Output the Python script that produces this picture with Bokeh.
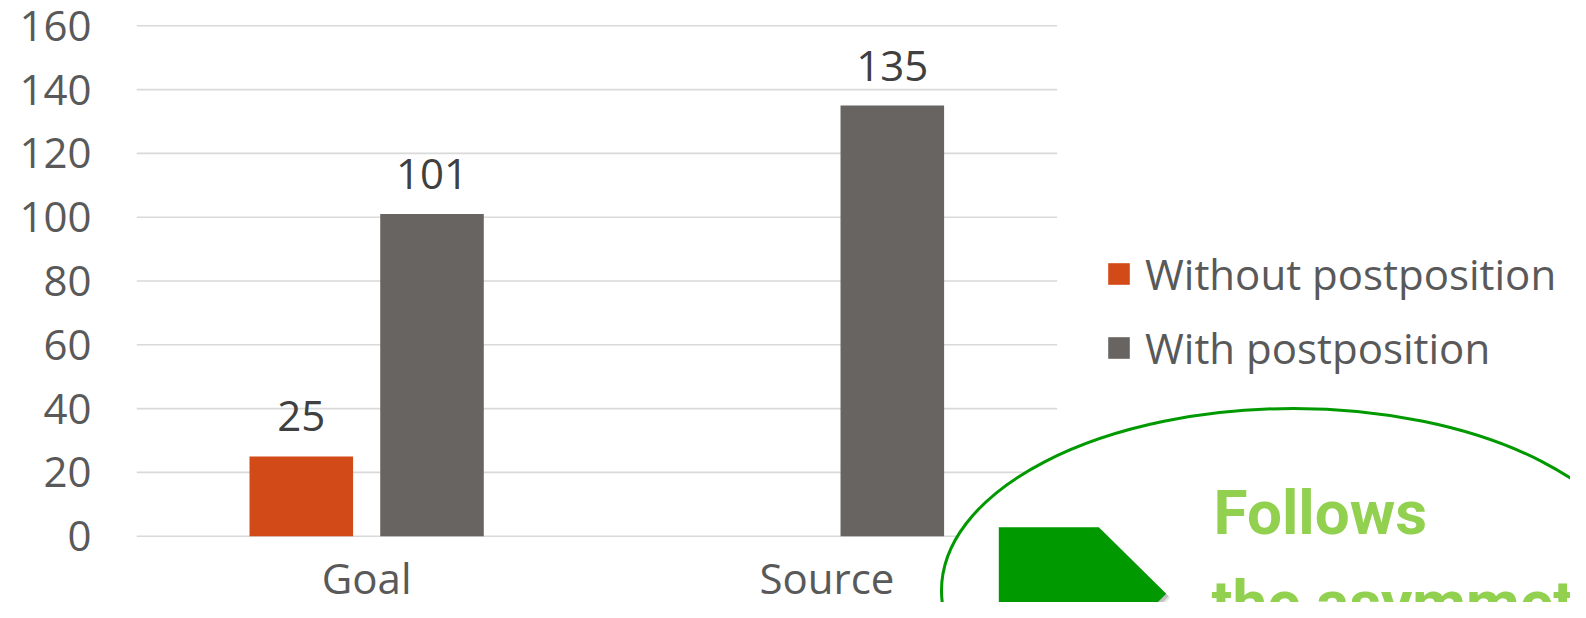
from bokeh.plotting import figure
from bokeh.models import ColumnDataSource, FixedTicker, LinearAxis, Legend, LegendItem, Range1d
from bokeh.core.properties import value
from bokeh.embed import file_html
from bokeh.resources import INLINE

# ---- data ----
categories = ["Goal", "Source"]
series_names = ["Without postposition", "With postposition"]
without_postposition = [25, 0]
with_postposition = [101, 135]
y_ticks = [0, 20, 40, 60, 80, 100, 120, 140, 160]
callout_line1 = "Follows"
callout_line2 = "the asymmetric"

# ---- styling ----
ORANGE = "#D24A17"
GRAY = "#686462"
TXT = "#595959"
LBL = "#404040"
GREEN = "#009900"
LIGHT_GREEN = "#92D050"
FONT = "Open Sans"
FS = "42px"

W, H = 1570, 602
LEFT = 136          # frame left edge (px)
CAT_PX = 460.3      # px per category
ZERO_PX = 535.7     # screen y of value 0
PX_UNIT = 3.19      # px per value unit

# pixel -> data helpers for the decorative callout
def dx(px):
    return (px - LEFT) / CAT_PX

def dy(py):
    return (ZERO_PX - py) / PX_UNIT

p = figure(width=W, height=H, output_backend="svg", toolbar_location=None,
           x_range=Range1d(0, dx(W)), y_range=Range1d(dy(H), dy(0)),
           x_axis_type=None, y_axis_type=None,
           min_border_left=LEFT, min_border_right=0, min_border_top=0, min_border_bottom=0)
p.outline_line_color = None
p.background_fill_color = "white"
p.border_fill_color = "white"

yaxis = LinearAxis(ticker=FixedTicker(ticks=y_ticks), axis_line_color=None,
                   major_tick_line_color=None, minor_tick_line_color=None,
                   major_tick_out=0, major_label_standoff=45,
                   major_label_text_font=FONT, major_label_text_font_size=FS,
                   major_label_text_color=TXT)
p.add_layout(yaxis, "left")

# gridlines across the category area only
n = len(y_ticks)
p.segment(x0=[0] * n, x1=[len(categories)] * n, y0=y_ticks, y1=y_ticks,
          line_color="#D9D9D9", line_width=1.6)

offset = 0.142
bw = 0.225
xc = [i + 0.5 for i in range(len(categories))]
src = ColumnDataSource(dict(
    x_wo=[c - offset for c in xc], x_w=[c + offset for c in xc],
    wo=without_postposition, w=with_postposition))

r1 = p.vbar(x="x_wo", top="wo", bottom=0, width=bw, source=src,
            fill_color=ORANGE, line_color=None)
r2 = p.vbar(x="x_w", top="w", bottom=0, width=bw, source=src,
            fill_color=GRAY, line_color=None)

# data labels (non-zero values only)
lx, ly, lt = [], [], []
for xs, vals in ((src.data["x_wo"], without_postposition), (src.data["x_w"], with_postposition)):
    for x, v in zip(xs, vals):
        if v:
            lx.append(x); ly.append(v); lt.append(str(v))
p.text(x=lx, y=ly, text=lt, text_align="center", text_baseline="middle",
       y_offset=-40, text_font=value(FONT), text_font_size=FS, text_color=LBL)

# category labels
p.text(x=xc, y=[0] * len(xc), text=categories, text_align="center",
       text_baseline="middle", y_offset=41, text_font=value(FONT),
       text_font_size=FS, text_color=TXT)

# callout ellipse
p.ellipse(x=[dx(1293)], y=[dy(590)], width=[704], height=[364],
          width_units="screen", height_units="screen",
          fill_color="white", line_color=GREEN, line_width=3)

# arrow (pentagon) with soft shadow
ax = [998.3, 1098.3, 1165.7, 1098.3, 998.3]
ay = [526.7, 526.7, 593.3, 660.0, 660.0]
for off, a in ((4, 0.15), (2.5, 0.25)):
    p.patch(x=[dx(v + off) for v in ax], y=[dy(v + off) for v in ay],
            fill_color="#555555", fill_alpha=a, line_color=None)
p.patch(x=[dx(v) for v in ax], y=[dy(v) for v in ay], fill_color=GREEN, line_color=None)

p.text(x=[dx(1213), dx(1211)], y=[dy(512), dy(602)], text=[callout_line1, callout_line2],
       text_align="left", text_baseline="middle",
       text_font=value("Roboto"), text_font_style="bold",
       text_font_size="62px", text_color=LIGHT_GREEN)

legend = Legend(items=[LegendItem(label=series_names[0], renderers=[r1]),
                       LegendItem(label=series_names[1], renderers=[r2])],
                location=(969, 226), orientation="vertical",
                glyph_width=27, glyph_height=27, label_standoff=13,
                spacing=17, padding=0, margin=0,
                border_line_color=None, background_fill_alpha=0,
                label_text_font=FONT, label_text_font_size=FS, label_text_color=TXT)
p.add_layout(legend)

open("out.html", "w").write(file_html(p, INLINE))
